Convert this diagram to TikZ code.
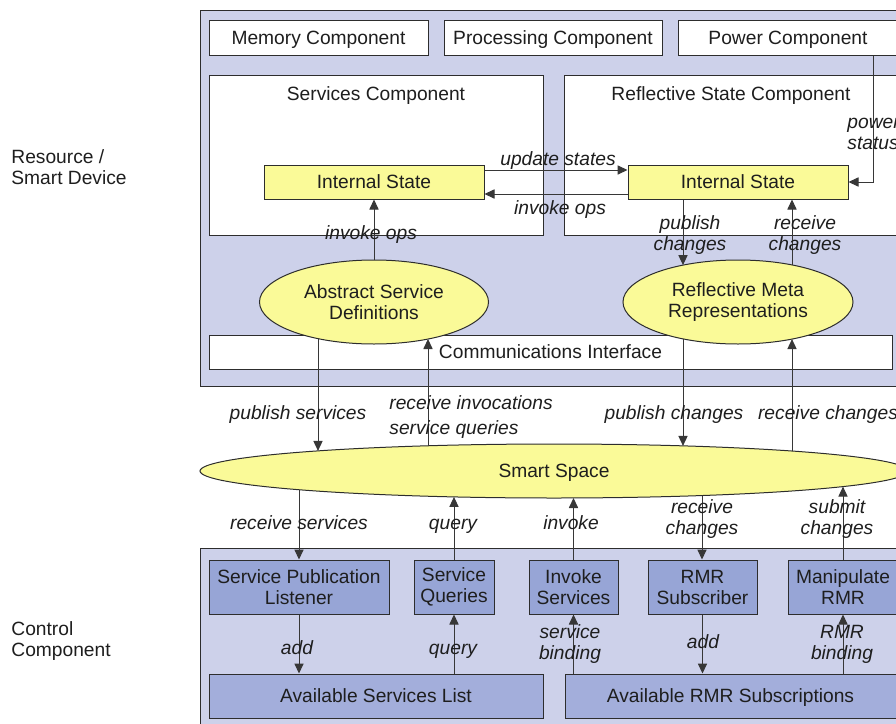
\documentclass[tikz,border=0pt]{standalone}
\usepackage{fontspec}
\setmainfont{Liberation Sans}
\usetikzlibrary{shapes.geometric,arrows.meta,calc}
\definecolor{panel}{RGB}{205,209,234}
\definecolor{yel}{RGB}{250,250,152}
\definecolor{bluebx}{RGB}{151,165,214}
\definecolor{listbx}{RGB}{163,174,219}
\definecolor{edge}{RGB}{45,45,45}
\definecolor{linec}{RGB}{55,55,55}
\definecolor{txt}{RGB}{30,30,30}
\newcommand\dfont{\fontsize{9.6pt}{10.5pt}\selectfont}
\tikzset{
  plain/.style={font=\dfont, text=txt, inner sep=0pt, align=center},
  lbl/.style={plain, font=\dfont\itshape},
  oneline/.style={text height=6.9pt, text depth=0pt},
  box/.style={rectangle, draw=edge, line width=0.5pt, fill=white, inner sep=0pt,
              font=\dfont, text=txt, align=center},
  panelbox/.style={box, fill=panel},
  bluebox/.style={box, fill=bluebx},
  listbox/.style={box, fill=listbx, oneline},
  statebox/.style={box, fill=yel, oneline, minimum width=110pt, minimum height=17pt},
  oval/.style={ellipse, draw=edge, line width=0.5pt, fill=yel, inner sep=0pt,
               font=\dfont, text=txt, align=center},
  arr/.style={draw=linec, line width=0.5pt, -{Triangle[length=5pt,width=4.6pt]}},
}
\begin{document}
\begin{tikzpicture}[x=0.5pt,y=-0.5pt]
\useasboundingbox (0,0) rectangle (896,724);
\clip (0,0) rectangle (896,724);

% side captions
\node[plain, align=left, anchor=west] (capres) at (11,167) {Resource /\\Smart Device};
\node[plain, align=left, anchor=west] (capctl) at (11,641) {Control\\Component};

% resource / smart device panel
\node[panelbox, minimum width=360pt, minimum height=188pt] (res) at (560,198) {};
\node[box, oneline, minimum width=109.5pt, minimum height=17.5pt] (mem) at (318.5,37.5) {Memory Component};
\node[box, oneline, minimum width=109pt, minimum height=17.5pt] (proc) at (553,37.5) {Processing Component};
\node[box, oneline, minimum width=110pt, minimum height=17.5pt] (pow) at (788,37.5) {Power Component};
\node[box, minimum width=167pt, minimum height=80pt] (svc) at (376,155) {};
\node[plain, oneline] (svct) at (376,93.5) {Services Component};
\node[box, minimum width=168pt, minimum height=80pt] (rsc) at (732,155) {};
\node[plain, oneline] (rsct) at (731,93.5) {Reflective State Component};
\node[statebox] (isL) at (374,182) {Internal State};
\node[statebox] (isR) at (738,182) {Internal State};
\node[box, oneline, minimum width=341.5pt, minimum height=17pt] (comm) at (550.5,352) {Communications Interface};
\node[oval, minimum width=114.5pt, minimum height=42pt] (asd) at (374,302) {Abstract Service\\Definitions};
\node[oval, minimum width=115pt, minimum height=42pt] (rmr) at (738,302) {Reflective Meta\\Representations};

% smart space
\node[oval, oneline, minimum width=354pt, minimum height=27pt] (smart) at (554,471) {Smart Space};

% control component panel
\node[panelbox, minimum width=360pt, minimum height=96pt] (ctrl) at (560,644) {};
\node[bluebox, minimum width=90pt, minimum height=27pt] (spl) at (299,587) {Service Publication\\Listener};
\node[bluebox, minimum width=40pt, minimum height=27pt] (sq) at (454,587) {Service\\Queries};
\node[bluebox, minimum width=44.5pt, minimum height=27pt] (inv) at (573.5,587) {Invoke\\Services};
\node[bluebox, minimum width=54.5pt, minimum height=27pt] (rsub) at (702.5,587) {RMR\\Subscriber};
\node[bluebox, minimum width=55pt, minimum height=27pt] (mrmr) at (843,587) {Manipulate\\RMR};
\node[listbox, minimum width=167pt, minimum height=22pt] (asl) at (376,696) {Available Services List};
\node[listbox, minimum width=165.5pt, minimum height=22pt] (ars) at (730.5,696) {Available RMR Subscriptions};

% border points where the vertical connectors meet the ellipses
\coordinate (asdS1) at ($(asd.center)+(-56,36.6)$);
\coordinate (asdS2) at ($(asd.center)+(54,37)$);
\coordinate (rmrN1) at ($(rmr.center)+(-55,-36.9)$);
\coordinate (rmrN2) at ($(rmr.center)+(54,-37.1)$);
\coordinate (rmrS1) at ($(rmr.center)+(-55,36.9)$);
\coordinate (rmrS2) at ($(rmr.center)+(54,37.1)$);
\coordinate (ssN1) at ($(smart.center)+(-236,-20.1)$);
\coordinate (ssN2) at ($(smart.center)+(-126,-25.2)$);
\coordinate (ssN3) at ($(smart.center)+(129,-25.1)$);
\coordinate (ssN4) at ($(smart.center)+(238,-20.0)$);
\coordinate (ssS1) at ($(smart.center)+(-255,18.7)$);
\coordinate (ssS2) at ($(smart.center)+(-100,25.9)$);
\coordinate (ssS3) at ($(smart.center)+(19.5,27)$);
\coordinate (ssS4) at ($(smart.center)+(148,24.5)$);
\coordinate (ssS5) at ($(smart.center)+(289,15.6)$);

% connectors inside the device
\draw[arr] (isL.east |- 0,170) -- (isR.west |- 0,170);
\draw[arr] (isR.west |- 0,194) -- (isL.east |- 0,194);
\draw[arr] (pow.south -| 873,0) |- (isR.east);
\draw[arr] (asd.north) -- (isL.south);
\draw[arr] (rmrN1 |- isR.south) -- (rmrN1);
\draw[arr] (rmrN2) -- (rmrN2 |- isR.south);

% device <-> smart space
\draw[arr] (asdS1) -- (asdS1 |- ssN1);
\draw[arr] (ssN2) -- (ssN2 |- asdS2);
\draw[arr] (rmrS1) -- (rmrS1 |- ssN3);
\draw[arr] (ssN4) -- (ssN4 |- rmrS2);

% smart space <-> control component
\draw[arr] (ssS1) -- (ssS1 |- spl.north);
\draw[arr] (sq.north) -- (sq.north |- ssS2);
\draw[arr] (inv.north) -- (inv.north |- ssS3);
\draw[arr] (ssS4) -- (ssS4 |- rsub.north);
\draw[arr] (mrmr.north) -- (mrmr.north |- ssS5);

% inside the control component
\draw[arr] (spl.south) -- (spl.south |- asl.north);
\draw[arr] (sq.south |- asl.north) -- (sq.south);
\draw[arr] (inv.south |- ars.north) -- (inv.south);
\draw[arr] (rsub.south) -- (rsub.south |- ars.north);
\draw[arr] (mrmr.south |- ars.north) -- (mrmr.south);

% connector labels
\node[lbl, oneline] (l1) at (558,159) {update states};
\node[lbl, oneline] (l2) at (560,208) {invoke ops};
\node[lbl, align=left, anchor=west] (l3) at (847,134) {power\\status};
\node[lbl, oneline] (l4) at (371,233) {invoke ops};
\node[lbl] (l5) at (690,235) {publish\\changes};
\node[lbl] (l6) at (805,235) {receive\\changes};
\node[lbl, oneline] (l7) at (298,413) {publish services};
\node[lbl, align=left, anchor=west] (l8) at (389,417) {receive invocations\\[2pt]service queries};
\node[lbl, oneline] (l9) at (674,413) {publish changes};
\node[lbl, oneline] (l10) at (828,413) {receive changes};
\node[lbl, oneline] (l11) at (299,523) {receive services};
\node[lbl, oneline] (l12) at (453,523) {query};
\node[lbl, oneline] (l13) at (571,523) {invoke};
\node[lbl] (l14) at (702,519) {receive\\changes};
\node[lbl] (l15) at (837,519) {submit\\changes};
\node[lbl, oneline] (l16) at (297,648) {add};
\node[lbl, oneline] (l17) at (453,648) {query};
\node[lbl] (l18) at (570,644) {service\\binding};
\node[lbl, oneline] (l19) at (703,642) {add};
\node[lbl] (l20) at (842,644) {RMR\\binding};
\end{tikzpicture}
\end{document}
